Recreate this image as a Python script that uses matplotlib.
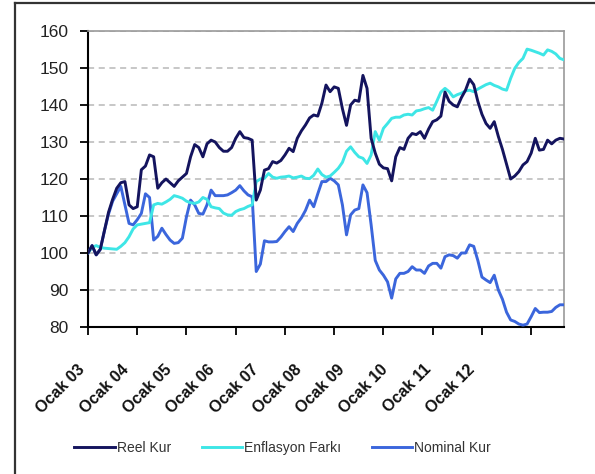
import numpy as np
import matplotlib
matplotlib.use("Agg")
import matplotlib.pyplot as plt
import matplotlib.transforms as mtransforms
from matplotlib.lines import Line2D

plt.rcParams['font.family'] = ['Liberation Sans', 'DejaVu Sans']

# aylik seriler, Ocak 2003 = 100
reel_kur = [
    100, 102, 99.5, 101, 106, 111, 114.5, 117.5, 119, 119.3, 113, 112,
    112.5, 122.5, 123.5, 126.5, 126, 117.5, 119, 120, 119, 118, 119.5, 120.5,
    121.5, 126, 129.3, 128.5, 126, 129.5, 130.5, 130, 128.5, 127.5, 127.5, 128.5,
    131, 132.8, 131.2, 131, 130.5, 114.3, 117, 122.4, 122.8, 124.7, 124.3, 125,
    126.5, 128.3, 127.4, 131, 133, 134.6, 136.5, 137.3, 137, 140.5, 145.4, 143.6,
    144.9, 144.5, 139, 134.5, 140, 141.3, 141, 148, 144.5, 131, 127, 124,
    123, 122.8, 119.5, 126, 128.5, 128, 131, 132.3, 132, 132.8, 131, 133.5,
    135.5, 136, 137, 143.5, 141, 140, 139.5, 142, 144, 147, 145.5, 141,
    137.5, 135, 133.7, 135.5, 131.5, 128, 124, 120, 120.8, 122, 123.8, 124.7,
    127, 131, 127.8, 128, 130.5, 129.5, 130.5, 131, 130.8,
]
enflasyon_farki = [
    100, 101.5, 102, 101.5, 101.3, 101.2, 101.1, 101, 101.8, 102.8, 104.4, 106.5,
    107.6, 107.8, 108, 108.2, 113, 113.4, 113.2, 113.8, 114.5, 115.5, 115.2, 114.8,
    114, 113.6, 113.4, 113.8, 115, 114.5, 112.5, 112.2, 112, 110.8, 110.3, 110.2,
    111.2, 111.7, 112, 112.6, 113, 119.3, 120, 120.2, 121.5, 120.5, 120.2, 120.5,
    120.6, 120.8, 120.3, 120.5, 120.8, 120.2, 120.1, 121, 122.7, 121.2, 120.5, 120.8,
    121.8, 122.9, 124.5, 127.5, 128.7, 127.2, 126, 125.6, 124.2, 126.5, 132.8, 130.5,
    133.7, 135, 136.4, 136.7, 136.7, 137.3, 137.5, 137.3, 138.4, 138.6, 139, 139.3,
    138.6, 141, 143.5, 144.5, 143.6, 142.2, 142.8, 143.2, 143.8, 144, 143.6, 144.3,
    144.9, 145.5, 145.9, 145.3, 144.9, 144.3, 144, 147.2, 149.9, 151.5, 152.6, 155.1,
    154.8, 154.4, 154, 153.5, 154.9, 154.5, 153.8, 152.6, 152.2,
]
nominal_kur = [
    100, 102, 99.5, 101, 106, 110.5, 114, 116, 118, 113, 108, 107.6,
    109, 110.7, 116, 115, 103.5, 104.5, 106.7, 105, 103.5, 102.6, 102.8, 104,
    109.8, 114.3, 113, 110.7, 110.5, 113, 117, 115.5, 115.5, 115.5, 115.7, 116.3,
    117, 118.2, 116.8, 115.7, 115.2, 95, 97, 103.3, 103, 103, 103.1, 104.3,
    105.8, 107.1, 105.8, 108, 109.5, 111.5, 114.3, 112.5, 116, 119.3, 119.3, 120.2,
    119.5, 118.4, 113, 104.9, 110.3, 111.6, 112, 118.4, 116.3, 107.6, 98, 95.4,
    94, 92.2, 87.8, 93, 94.5, 94.5, 95, 96.3, 95.4, 95.4, 94.5, 96.5,
    97.2, 97.2, 95.9, 99, 99.5, 99.3, 98.6, 100, 100, 102.2, 101.8, 98,
    93.5, 92.7, 92, 94, 90, 87.5, 84, 81.9, 81.5, 80.8, 80.5, 80.8,
    82.8, 85, 83.9, 84, 84, 84.2, 85.3, 86, 86,
]
tick_labels = ['Ocak 03', 'Ocak 04', 'Ocak 05', 'Ocak 06', 'Ocak 07',
               'Ocak 08', 'Ocak 09', 'Ocak 10', 'Ocak 11', 'Ocak 12']

x = np.arange(len(reel_kur))

fig = plt.figure(figsize=(5.95, 4.74), dpi=100)
ax = fig.add_axes([88/595, 1-327/474, (564-88)/595, (327-31)/474])

ax.plot(x, nominal_kur, color='#3b66dc', lw=2.1, label='Nominal Kur', zorder=3)
ax.plot(x, enflasyon_farki, color='#3ee6e6', lw=2.1, label='Enflasyon Farkı', zorder=3)
ax.plot(x, reel_kur, color='#14145e', lw=2.1, label='Reel Kur', zorder=4)

ax.set_xlim(0, len(reel_kur) - 1)
ax.set_ylim(80, 160)
ax.set_yticks(np.arange(80, 161, 10))

# tik cizgileri her Ocak'ta, etiketler biraz daha sik aralikla (orijinaldeki gibi)
ax.xaxis.remove_overlapping_locs = False
ax.set_xticks(np.arange(len(tick_labels)) * 12)
ax.set_xticklabels([])
ax.set_xticks(np.arange(len(tick_labels)) * 10.55, minor=True)
ax.set_xticklabels(tick_labels, minor=True, rotation=45, ha='right', va='top',
                   fontsize=11.5, fontweight='bold', color='#111111')
off = mtransforms.ScaledTranslation(-6/100, 0, fig.dpi_scale_trans)
for lab in ax.get_xticklabels(minor=True):
    lab.set_transform(lab.get_transform() + off)

ax.tick_params(axis='x', which='major', direction='out', length=6, width=1.3)
ax.tick_params(axis='x', which='minor', length=0, pad=25)
ax.tick_params(axis='y', direction='out', length=6, width=1.3, pad=8,
               labelsize=12.5, labelcolor='#222222')

ax.yaxis.grid(True, color='#b8b8b8', lw=1.1, linestyle=(0, (4, 3)))
ax.set_axisbelow(True)
for s in ['left', 'bottom']:
    ax.spines[s].set_color('black')
    ax.spines[s].set_linewidth(1.5)
for s in ['top', 'right']:
    ax.spines[s].set_color('#9a9a9a')
    ax.spines[s].set_linewidth(1.2)

handles, labels = ax.get_legend_handles_labels()
order = [2, 1, 0]
fig.legend([handles[i] for i in order], [labels[i] for i in order],
           loc='center', bbox_to_anchor=(0.475, 1-448/474), ncol=3,
           frameon=False, fontsize=10, handlelength=2.9, handletextpad=0.15,
           columnspacing=2.2, labelcolor='#333333')

# cerceve
fig.add_artist(Line2D([15/595, 15/595], [0, 1-3/474], color='#333333', lw=1.6))
fig.add_artist(Line2D([15/595, 1], [1-3/474, 1-3/474], color='#333333', lw=1.6))

fig.savefig('out.png', dpi=100)
